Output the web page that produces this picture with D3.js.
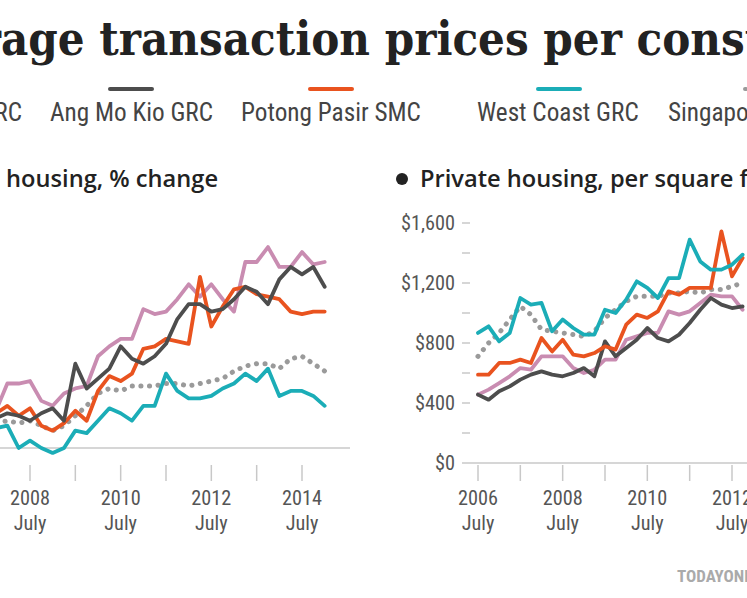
<!DOCTYPE html>
<html><head><meta charset="utf-8">
<script src="https://cdn.jsdelivr.net/npm/d3@7"></script>
<style>body{margin:0;background:#fff;overflow:hidden}svg{display:block}</style>
</head><body><svg id="s" width="747" height="598"></svg>
<script>
// Left panel: quarterly 2006.5 .. 2014.5, % change (index)
const leftTimes = d3.range(35).map(i => 2006.5 + i*0.25);
const leftPink  = [10,11,13,12,14,15, 26,26,27,19,17,22,24,25,37,41,44,44,56,54,55,60,66,61,66,60,55,75,75,81,73,73,79,74,75];
const leftDark  = [6,7,9,8,10,12, 14,13,11,14,16,11,34,24,28,32,41,36,34,37,42,52,58,58,55,56,60,65,63,58,68,73,70,73,65];
const leftOrange= [8,9,10,9,11,14, 17,13,16,9,7,10,15,11,23,29,27,30,40,41,44,43,42,69,49,57,64,65,62,61,60,55,54,55,55];
const leftTeal  = [5,4,6,5,7,8, 9,0,3,0,-2,0,7,6,11,16,14,11,17,17,30,23,20,20,21,24,26,30,27,32,21,23,23,21,17];
const leftSing  = [5,6,7,6,8,10, 11,10,11,9,7,9,13,17,22,24,23,25,25,25,26,26,25,26,27,28,31,33,34,34,32,36,37,34,31];
// Right panel: quarterly 2006.5 .. 2012.75, $ per square foot
const rightTimes = d3.range(26).map(i => 2006.5 + i*0.25);
const rightTeal  = [867,911,811,867,1100,1056,1067,878,956,900,856,856,1022,1000,1089,1211,1167,1100,1233,1233,1489,1344,1289,1289,1322,1389];
const rightOrange= [589,589,667,667,689,667,833,744,822,722,711,733,778,756,922,989,967,1011,1144,1122,1167,1167,1167,1544,1244,1367];
const rightPink  = [456,489,533,578,633,622,711,711,711,633,600,622,689,689,822,844,867,867,1011,989,1011,1067,1122,1111,1111,1022];
const rightDark  = [456,422,478,511,556,589,611,589,578,600,633,578,811,711,767,822,900,833,811,856,933,1022,1100,1056,1033,1044];
const rightSing  = [711,800,867,956,1044,989,889,878,867,856,844,878,967,1022,1078,1111,1111,1111,1133,1133,1144,1133,1156,1156,1178,1200];
const yTicksRight = [0,400,800,1200,1600];
const yMinorRight = [200,600,1000,1400];
const leftYearLabels = [2008,2010,2012,2014];
const rightYearLabels = [2006,2008,2010,2012];
const seriesNames = ["Bishan-Toa Payoh GRC","Ang Mo Kio GRC","Potong Pasir SMC","West Coast GRC","Singapore"];

const C = {pink:"#c98cb1",dark:"#4d4d4d",orange:"#e9531f",teal:"#1badb7",sing:"#9a9a9a"};
const svg = d3.select("#s");
const COND = "Roboto Condensed, DejaVu Sans Condensed, sans-serif";

function measure(str, fam, weight){
  const t = svg.append("text").attr("font-family",fam).attr("font-weight",weight).attr("font-size",100).text(str);
  const w = t.node().getComputedTextLength(); t.remove(); return w;
}
// place full text so that substring [a,b) spans x0..x1
function fitText(full, a, b, x0, x1, y, fam, weight, fill){
  const sub = full.slice(a,b), pre = full.slice(0,a);
  const fsz = 100*(x1-x0)/measure(sub,fam,weight);
  const preW = pre ? measure(pre,fam,weight)*fsz/100 : 0;
  return svg.append("text").attr("x",x0-preW).attr("y",y).attr("font-family",fam).attr("font-weight",weight)
    .attr("font-size",fsz).attr("fill",fill).text(full);
}

// Title
const TT = "Average transaction prices per constituency";
fitText(TT, 4, 35, 1, 745, 55, "DejaVu Serif Condensed, DejaVu Serif, serif", "bold", "#222");

// Legend
const legCols = [C.pink,C.dark,C.orange,C.teal,C.sing];
const legSw = [-60,110,310,538,745];
const legFs = 100*163/measure("Ang Mo Kio GRC",COND,"normal");
const legX = [22,50,241,477,668];
seriesNames.forEach((n,i)=>{
  svg.append("text").attr("x",legX[i]).attr("y",121).attr("font-family",COND).attr("font-size",legFs)
    .attr("fill","#444").attr("text-anchor",i==0?"end":"start").text(n);
  svg.append("line").attr("x1",legSw[i]).attr("x2",legSw[i]+42).attr("y1",89).attr("y2",89)
    .attr("stroke",legCols[i]).attr("stroke-width",4).attr("stroke-linecap","round")
    .attr("stroke-dasharray",i==4?"1,6":null);
});

// Subtitles
const SF = "Open Sans, Noto Sans, sans-serif";
const s1 = fitText("Public housing, % change", 7, 24, 0, 212, 187, SF, "600", "#222");
const subFs = +s1.attr("font-size");
svg.append("circle").attr("cx",402).attr("cy",179).attr("r",6).attr("fill","#222");
svg.append("text").attr("x",420).attr("y",187).attr("font-family",SF).attr("font-weight","600")
  .attr("font-size",subFs).attr("fill","#222").text("Private housing, per square foot");

function drawLines(g,x,y,times,list){
  list.forEach(([vals,col,dot])=>{
    const line=d3.line().x((d,i)=>x(times[i])).y(d=>y(d));
    const p=g.append("path").datum(vals).attr("d",line).attr("fill","none").attr("stroke",col)
      .attr("stroke-width",3.8).attr("stroke-linejoin","round").attr("stroke-linecap","round");
    if(dot) p.attr("stroke-dasharray","0.1,8.5").attr("stroke-width",5);
  });
}
const tickFs = 100*40/measure("2008",COND,"normal");
function xAxis(x,y0,years,ticks,x0,x1){
  svg.append("line").attr("x1",x0).attr("x2",x1).attr("y1",y0).attr("y2",y0).attr("stroke","#c8c8c8").attr("stroke-width",1.5);
  ticks.forEach(t=>svg.append("line").attr("x1",x(t)).attr("x2",x(t)).attr("y1",465).attr("y2",481).attr("stroke","#c8c8c8").attr("stroke-width",1.5));
  years.forEach(yr=>{
    svg.append("text").attr("x",x(yr+0.5)).attr("y",505).attr("text-anchor","middle").attr("font-family",COND).attr("font-size",tickFs).attr("fill","#555").text(yr);
    svg.append("text").attr("x",x(yr+0.5)).attr("y",530).attr("text-anchor","middle").attr("font-family",COND).attr("font-size",tickFs).attr("fill","#555").text("July");
  });
}

// Left panel
const xL = d3.scaleLinear().domain([2008.5,2014.5]).range([30,302]);
const yL = d3.scaleLinear().domain([0,100]).range([448,200]);
xAxis(xL,448,leftYearLabels,d3.range(2007.5,2015.5,1),0,350);
const gL = svg.append("g");
drawLines(gL,xL,yL,leftTimes,[[leftSing,C.sing,true],[leftTeal,C.teal],[leftPink,C.pink],[leftOrange,C.orange],[leftDark,C.dark]]);

// Right panel
const xR = d3.scaleLinear().domain([2006.5,2012.5]).range([478,732]);
const yR = d3.scaleLinear().domain([0,1600]).range([463,223]);
xAxis(xR,463,rightYearLabels,d3.range(2006.5,2013.5,1),462,747);
yTicksRight.forEach(v=>{
  svg.append("text").attr("x",455).attr("y",yR(v)+7).attr("text-anchor","end").attr("font-family",COND).attr("font-size",tickFs).attr("fill","#555").text("$"+d3.format(",")(v));
});
yTicksRight.slice(1).concat(yMinorRight).forEach(v=>svg.append("line").attr("x1",462).attr("x2",470).attr("y1",yR(v)).attr("y2",yR(v)).attr("stroke","#c8c8c8").attr("stroke-width",1.5));
const gR = svg.append("g");
drawLines(gR,xR,yR,rightTimes,[[rightSing,C.sing,true],[rightPink,C.pink],[rightDark,C.dark],[rightOrange,C.orange],[rightTeal,C.teal]]);

svg.append("text").attr("x",677).attr("y",582).attr("font-family",COND).attr("font-size",17).attr("font-weight","bold").attr("fill","#aaa").text("TODAYONLINE");
</script></body></html>
